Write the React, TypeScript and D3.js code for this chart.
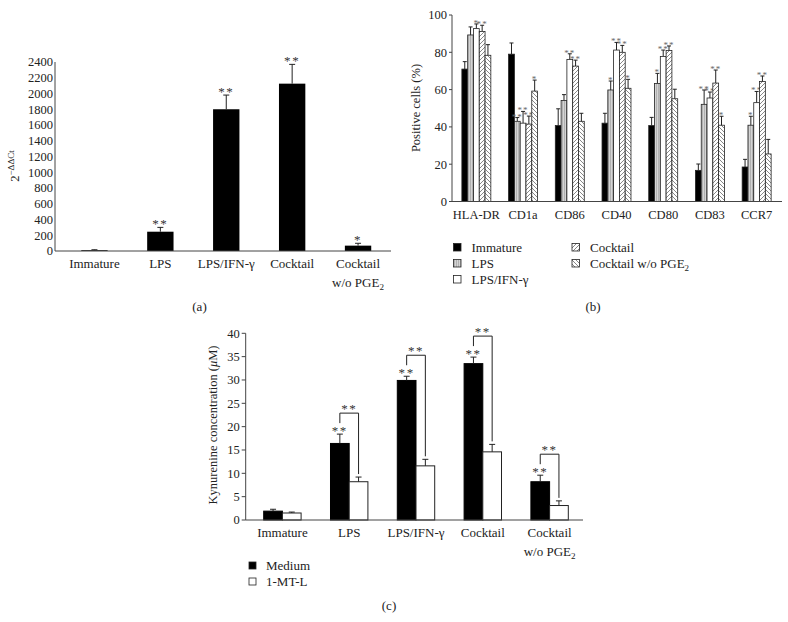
import React from "react";
import * as d3 from "d3";

// ---------- Panel (a) data ----------
const catsA = ["Immature", "LPS", "LPS/IFN-γ", "Cocktail", "Cocktail w/o PGE2"];
const valsA = [10, 245, 1800, 2125, 68];
const errA = [6, 55, 180, 245, 30];
const sigA = ["", "**", "**", "**", "*"];
const ticksA = [0, 200, 400, 600, 800, 1000, 1200, 1400, 1600, 1800, 2000, 2200, 2400];

// ---------- Panel (b) data ----------
const markersB = ["HLA-DR", "CD1a", "CD86", "CD40", "CD80", "CD83", "CCR7"];
const seriesB = ["Immature", "LPS", "LPS/IFN-γ", "Cocktail", "Cocktail w/o PGE2"];
const immatureB = [71, 79, 40.7, 42, 40.7, 16.7, 18.5];
const immatureErrB = [4, 6, 9, 5.3, 4.4, 3.4, 4.1];
const lpsB = [89.3, 43, 54.2, 59.8, 63.3, 52.1, 40.9];
const lpsErrB = [4.3, 2, 3.1, 4.8, 5.4, 7.7, 4.8];
const lpsIfnB = [92.7, 42, 76.2, 81.2, 77.8, 55.5, 53];
const lpsIfnErrB = [2.5, 6.3, 3, 4.1, 3.4, 3.2, 6];
const cocktailB = [91.2, 41.5, 72.6, 80, 81, 63.5, 64.4];
const cocktailErrB = [3.3, 4.3, 3.2, 3.7, 2.4, 7, 2.9];
const woB = [78.4, 59.2, 43, 60.7, 55.1, 40.9, 25.5];
const woErrB = [5.7, 5.9, 4.3, 4.8, 5.1, 4.8, 7.8];
const immatureSigB = ["", "", "", "", "", "", ""];
const lpsSigB = ["", "**", "", "*", "*", "**", "*"];
const lpsIfnSigB = ["*", "**", "**", "**", "**", "**", "**"];
const cocktailSigB = ["**", "**", "**", "**", "**", "**", "**"];
const woSigB = ["", "*", "", "*", "", "*", ""];
const ticksB = [0, 20, 40, 60, 80, 100];

// ---------- Panel (c) data ----------
const catsC = ["Immature", "LPS", "LPS/IFN-γ", "Cocktail", "Cocktail w/o PGE2"];
const mediumC = [1.9, 16.4, 29.9, 33.5, 8.2];
const mediumErrC = [0.4, 2, 0.9, 1.4, 1.4];
const mtC = [1.5, 8.2, 11.6, 14.6, 3.1];
const mtErrC = [0.2, 1, 1.4, 1.6, 1];
const mediumSigC = ["", "**", "**", "**", "**"];
const bracketSigC = ["", "**", "**", "**", "**"];
const ticksC = [0, 5, 10, 15, 20, 25, 30, 35, 40];

const FONT = "'Liberation Serif', 'Times New Roman', serif";
const AX = "#444";

function CatLabel({ x, y, text, size = 13 }: { x: number; y: number; text: string; size?: number }) {
  if (text === "Cocktail w/o PGE2") {
    return (
      <text x={x} y={y} textAnchor="middle" fontSize={size} fontFamily={FONT} fill="#222">
        <tspan x={x}>Cocktail</tspan>
        <tspan x={x} dy={19}>
          w/o PGE
          <tspan fontSize={size * 0.7} dy={3}>2</tspan>
        </tspan>
      </text>
    );
  }
  return (
    <text x={x} y={y} textAnchor="middle" fontSize={size} fontFamily={FONT} fill="#222">
      {text}
    </text>
  );
}

function Stars({ x, y, s, size = 13, fill = "#333" }: { x: number; y: number; s: string; size?: number; fill?: string }) {
  if (!s) return null;
  return (
    <text x={x} y={y} textAnchor="middle" fontSize={size} fontFamily={FONT} fill={fill} letterSpacing={size * 0.12}>
      {s}
    </text>
  );
}

function ErrBar({ x, y0, y1, cap }: { x: number; y0: number; y1: number; cap: number }) {
  return (
    <g stroke="#222" strokeWidth={1}>
      <line x1={x} x2={x} y1={y0} y2={y1} />
      <line x1={x - cap} x2={x + cap} y1={y1} y2={y1} />
    </g>
  );
}

function PanelA() {
  const y = d3.scaleLinear().domain([0, 2400]).range([251, 62]);
  const x = d3.scaleBand<string>().domain(catsA).range([61.5, 391]).paddingInner(0.6).paddingOuter(0.3);
  const axX = 55;
  return (
    <g>
      {catsA.map((c, i) => {
        const bx = x(c)!;
        const bw = x.bandwidth();
        const cx = bx + bw / 2;
        const top = y(valsA[i] + errA[i]);
        return (
          <g key={c}>
            <rect x={bx} y={y(valsA[i])} width={bw} height={y(0) - y(valsA[i])} fill="#000" />
            <ErrBar x={cx} y0={y(valsA[i])} y1={top} cap={3} />
            <Stars x={cx} y={top + 1} s={sigA[i]} />
            <CatLabel x={cx} y={268} text={c} />
          </g>
        );
      })}
      <line x1={axX} x2={axX} y1={y(2400)} y2={y(0)} stroke={AX} />
      <line x1={axX} x2={391} y1={y(0)} y2={y(0)} stroke={AX} />
      {ticksA.map((t) => (
        <text key={t} x={axX - 2} y={y(t) + 4.3} textAnchor="end" fontSize={12.5} fontFamily={FONT} fill="#222">
          {t}
        </text>
      ))}
      <text transform="translate(19,166) rotate(-90)" textAnchor="middle" fontSize={12.5} fontFamily={FONT} fill="#222">
        2<tspan fontSize={9} dy={-5}>−ΔΔCt</tspan>
      </text>
      <text x={199.5} y={311} textAnchor="middle" fontSize={13} fontFamily={FONT} fill="#222">(a)</text>
    </g>
  );
}

function PanelB() {
  const y = d3.scaleLinear().domain([0, 100]).range([201.5, 15]);
  const x0 = d3.scaleBand<string>().domain(markersB).range([453, 780]).paddingInner(0.38).paddingOuter(0.19);
  const x1 = d3.scaleBand<string>().domain(seriesB).range([0, x0.bandwidth()]);
  const vals = [immatureB, lpsB, lpsIfnB, cocktailB, woB];
  const errs = [immatureErrB, lpsErrB, lpsIfnErrB, cocktailErrB, woErrB];
  const sigs = [immatureSigB, lpsSigB, lpsIfnSigB, cocktailSigB, woSigB];
  const fills = ["#000", "url(#pLps)", "#fff", "url(#pCock)", "url(#pWo)"];
  const axX = 452;
  return (
    <g>
      {markersB.map((m, mi) => (
        <g key={m}>
          {seriesB.map((s, si) => {
            const bx = x0(m)! + x1(s)!;
            const bw = x1.bandwidth();
            const v = vals[si][mi];
            const top = y(v + errs[si][mi]);
            return (
              <g key={s}>
                <ErrBar x={bx + bw / 2} y0={y(v)} y1={top} cap={2} />
                <rect x={bx} y={y(v)} width={bw} height={y(0) - y(v)} fill={fills[si]} stroke="#222" strokeWidth={0.8} />
                <Stars x={bx + bw / 2} y={top + 2} s={sigs[si][mi]} size={9} fill="#666" />
              </g>
            );
          })}
          <text x={x0(m)! + x0.bandwidth() / 2} y={219} textAnchor="middle" fontSize={12.5} fontFamily={FONT} fill="#222">
            {m}
          </text>
        </g>
      ))}
      <line x1={axX} x2={axX} y1={y(100)} y2={y(0)} stroke={AX} />
      <line x1={axX} x2={782} y1={y(0)} y2={y(0)} stroke={AX} />
      {ticksB.map((t) => (
        <g key={t}>
          <line x1={axX - 3} x2={axX} y1={y(t)} y2={y(t)} stroke={AX} />
          <text x={axX - 5} y={y(t) + 4.3} textAnchor="end" fontSize={12.5} fontFamily={FONT} fill="#222">
            {t}
          </text>
        </g>
      ))}
      <text transform="translate(420,108) rotate(-90)" textAnchor="middle" fontSize={12.5} fontFamily={FONT} fill="#222">
        Positive cells (%)
      </text>
      {seriesB.map((s, si) => {
        const col = si < 3 ? 0 : 1;
        const row = si < 3 ? si : si - 3;
        const lx = col === 0 ? 453.5 : 572;
        const ly = 243.5 + row * 16;
        return (
          <g key={s}>
            <rect x={lx} y={ly} width={7.5} height={7.5} fill={fills[si]} stroke="#222" strokeWidth={0.8} />
            <text x={lx + 18} y={ly + 8} fontSize={13} fontFamily={FONT} fill="#222">
              {s === "Cocktail w/o PGE2" ? (
                <>
                  Cocktail w/o PGE<tspan fontSize={9} dy={3}>2</tspan>
                </>
              ) : (
                s
              )}
            </text>
          </g>
        );
      })}
      <text x={593} y={311} textAnchor="middle" fontSize={13} fontFamily={FONT} fill="#222">(b)</text>
    </g>
  );
}

function PanelC() {
  const y = d3.scaleLinear().domain([0, 40]).range([520, 333.3]);
  const x0 = d3.scaleBand<string>().domain(catsC).range([249, 583]).paddingInner(0.44).paddingOuter(0.22);
  const bw = x0.bandwidth() / 2;
  const axX = 245.7;
  return (
    <g>
      {catsC.map((c, i) => {
        const bx = x0(c)!;
        const cxM = bx + bw / 2;
        const cxT = bx + bw * 1.5;
        const topM = y(mediumC[i] + mediumErrC[i]);
        const topT = y(mtC[i] + mtErrC[i]);
        const brTop = topM - 21;
        return (
          <g key={c}>
            <rect x={bx} y={y(mediumC[i])} width={bw} height={y(0) - y(mediumC[i])} fill="#000" stroke="#000" />
            <ErrBar x={cxM} y0={y(mediumC[i])} y1={topM} cap={3} />
            <rect x={bx + bw} y={y(mtC[i])} width={bw} height={y(0) - y(mtC[i])} fill="#fff" stroke="#222" />
            <ErrBar x={cxT} y0={y(mtC[i])} y1={topT} cap={3} />
            <Stars x={cxM} y={topM + 1} s={mediumSigC[i]} />
            {bracketSigC[i] && (
              <g>
                <path
                  d={`M${cxM},${topM - 11}V${brTop}H${cxT}V${topT - 3}`}
                  fill="none"
                  stroke="#222"
                  strokeWidth={1}
                />
                <Stars x={(cxM + cxT) / 2} y={brTop - 0.5} s={bracketSigC[i]} />
              </g>
            )}
            <CatLabel x={bx + x0.bandwidth() / 2} y={537} text={c} />
          </g>
        );
      })}
      <line x1={axX} x2={axX} y1={y(40)} y2={y(0)} stroke={AX} />
      <line x1={axX} x2={583} y1={y(0)} y2={y(0)} stroke={AX} />
      {ticksC.map((t) => (
        <g key={t}>
          <line x1={axX - 4} x2={axX} y1={y(t)} y2={y(t)} stroke={AX} />
          <text x={axX - 6} y={y(t) + 4.3} textAnchor="end" fontSize={12.5} fontFamily={FONT} fill="#222">
            {t}
          </text>
        </g>
      ))}
      <text transform="translate(217,425) rotate(-90)" textAnchor="middle" fontSize={12.5} fontFamily={FONT} fill="#222">
        Kynurenine concentration (<tspan fontStyle="italic">μ</tspan>M)
      </text>
      {["Medium", "1-MT-L"].map((s, i) => (
        <g key={s}>
          <rect x={249} y={562 + i * 16} width={7} height={7} fill={i === 0 ? "#000" : "#fff"} stroke="#222" strokeWidth={0.8} />
          <text x={266} y={570 + i * 16} fontSize={13} fontFamily={FONT} fill="#222">{s}</text>
        </g>
      ))}
      <text x={389} y={610} textAnchor="middle" fontSize={13} fontFamily={FONT} fill="#222">(c)</text>
    </g>
  );
}

export default function App() {
  return (
    <svg width={788} height={622} viewBox="0 0 788 622" style={{ position: "absolute", left: 0, top: 0, background: "#fff" }}>
      <defs>
        <pattern id="pLps" patternUnits="userSpaceOnUse" width={2} height={4}>
          <rect width={2} height={4} fill="#d4d4d4" />
          <line x1={0.5} x2={0.5} y1={0} y2={4} stroke="#a8a8a8" strokeWidth={0.8} />
        </pattern>
        <pattern id="pCock" patternUnits="userSpaceOnUse" width={4} height={4}>
          <rect width={4} height={4} fill="#fff" />
          <path d="M-1,1L1,-1M0,4L4,0M3,5L5,3" stroke="#555" strokeWidth={0.7} />
        </pattern>
        <pattern id="pWo" patternUnits="userSpaceOnUse" width={4} height={4}>
          <rect width={4} height={4} fill="#fff" />
          <path d="M-1,3L1,5M0,0L4,4M3,-1L5,1" stroke="#555" strokeWidth={0.7} />
        </pattern>
      </defs>
      <rect width={788} height={622} fill="#fff" />
      <PanelA />
      <PanelB />
      <PanelC />
    </svg>
  );
}
